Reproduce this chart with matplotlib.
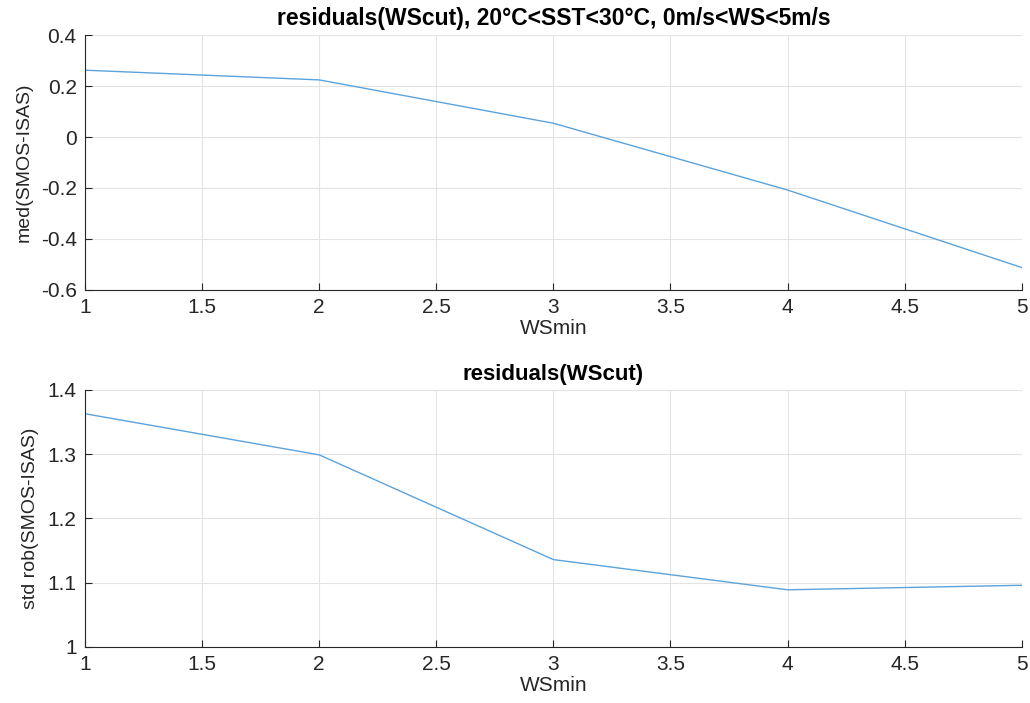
import matplotlib.pyplot as plt

# WSmin values
ws_min = [1, 2, 3, 4, 5]

# median of residuals (SMOS-ISAS)
med_res = [0.262, 0.224, 0.054, -0.208, -0.512]

# robust std of residuals (SMOS-ISAS)
std_rob = [1.363, 1.299, 1.136, 1.089, 1.096]

line_color = '#5ba3dc'
plt.rcParams['font.family'] = ['Liberation Sans', 'DejaVu Sans']

fig = plt.figure(figsize=(10.3, 7.03), dpi=100)
ax1 = fig.add_axes([0.0825, 0.5875, 0.9095, 0.3627])
ax2 = fig.add_axes([0.0825, 0.0797, 0.9095, 0.3656])


def style_axes(ax):
    for side in ['top', 'right']:
        ax.spines[side].set_visible(False)
    for side in ['left', 'bottom']:
        ax.spines[side].set_color('#262626')
        ax.spines[side].set_linewidth(0.8)
    ax.grid(True, color='#e3e3e3', linewidth=0.8)
    ax.set_axisbelow(True)
    ax.tick_params(direction='in', length=5, labelsize=15, colors='#262626', pad=6)
    ax.set_xlim(1, 5)
    ax.set_xticks([1, 1.5, 2, 2.5, 3, 3.5, 4, 4.5, 5])
    ax.set_xticklabels(['1', '1.5', '2', '2.5', '3', '3.5', '4', '4.5', '5'])


ax1.plot(ws_min, med_res, color=line_color, linewidth=1.0)
style_axes(ax1)
ax1.set_ylim(-0.6, 0.4)
ax1.set_yticks([-0.6, -0.4, -0.2, 0, 0.2, 0.4])
ax1.set_yticklabels(['-0.6', '-0.4', '-0.2', '0', '0.2', '0.4'])
ax1.set_xlabel('WSmin', fontsize=15, color='#262626', labelpad=1)
ax1.set_ylabel('med(SMOS-ISAS)', fontsize=14, color='#262626', labelpad=6)
ax1.set_title('residuals(WScut), 20°C<SST<30°C, 0m/s<WS<5m/s',
              fontsize=16.5, fontweight='bold', pad=7)

ax2.plot(ws_min, std_rob, color=line_color, linewidth=1.0)
style_axes(ax2)
ax2.set_ylim(1, 1.4)
ax2.set_yticks([1, 1.1, 1.2, 1.3, 1.4])
ax2.set_yticklabels(['1', '1.1', '1.2', '1.3', '1.4'])
ax2.set_xlabel('WSmin', fontsize=15, color='#262626', labelpad=1)
ax2.set_ylabel('std rob(SMOS-ISAS)', fontsize=14, color='#262626', labelpad=6)
ax2.set_title('residuals(WScut)', fontsize=16, fontweight='bold', pad=7)

plt.savefig('out.png', dpi=100)
